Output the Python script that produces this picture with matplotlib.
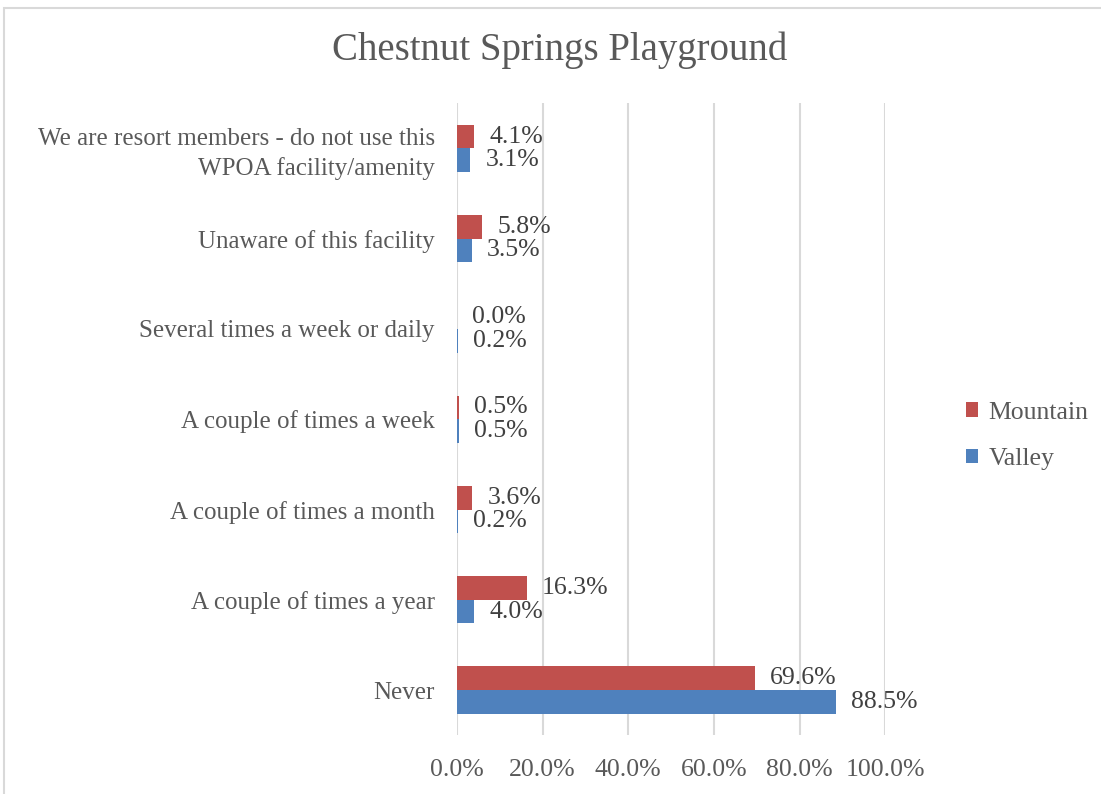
import matplotlib.pyplot as plt
import numpy as np
from matplotlib.patches import Rectangle

categories = ['We are resort members - do not use this\nWPOA facility/amenity',
              'Unaware of this facility',
              'Several times a week or daily',
              'A couple of times a week',
              'A couple of times a month',
              'A couple of times a year',
              'Never']
mountain = [4.1, 5.8, 0.0, 0.5, 3.6, 16.3, 69.6]
valley = [3.1, 3.5, 0.2, 0.5, 0.2, 4.0, 88.5]

plt.rcParams['font.family'] = ['Liberation Serif', 'DejaVu Serif']
grey = '#595959'
red = '#C0504D'
blue = '#4F81BD'

fig = plt.figure(figsize=(11.01, 7.94), dpi=100)
ax = fig.add_axes([0.415, 0.074, 0.389, 0.796])

y = np.arange(len(categories))[::-1]
h = 0.262
bm = ax.barh(y + h/2, mountain, height=h, color=red, label='Mountain')
bv = ax.barh(y - h/2, valley, height=h, color=blue, label='Valley')

for bars, vals in [(bm, mountain), (bv, valley)]:
    for b, v in zip(bars, vals):
        ax.annotate('%.1f%%' % v, (b.get_width(), b.get_y() + b.get_height()/2),
                    xytext=(11, 0), textcoords='offset points',
                    va='center', ha='left', fontsize=18.5, color='#404040')

ax.set_xlim(0, 100)
ax.set_ylim(-0.5, len(categories) - 0.5)
ax.set_xticks(np.arange(0, 101, 20))
ax.set_xticklabels(['%.1f%%' % t for t in np.arange(0, 101, 20)])
ax.set_yticks(y)
ax.set_yticklabels(categories, linespacing=1.35)
ax.tick_params(axis='x', length=0, labelsize=18.5, labelcolor=grey, pad=17)
ax.tick_params(axis='y', length=0, labelsize=18, labelcolor=grey, pad=16)
for lbl in ax.get_yticklabels():
    lbl.set_horizontalalignment('right')
ax.xaxis.grid(True, color='#D9D9D9', linewidth=1.5)
ax.set_axisbelow(True)
for s in ax.spines.values():
    s.set_visible(False)

fig.text(0.508, 0.937, 'Chestnut Springs Playground', ha='center', va='center',
         fontsize=28, color=grey)

handles = [bm, bv]
fig.legend(handles, ['Mountain', 'Valley'], loc='center left',
           bbox_to_anchor=(0.856, 0.451), frameon=False, fontsize=18.5,
           labelcolor=grey, handlelength=0.5, handleheight=0.5,
           handletextpad=0.4, labelspacing=0.95)

fig.patches.append(Rectangle((0.004, -0.01), 1.2, 1.0, transform=fig.transFigure,
                             fill=False, edgecolor='#D9D9D9', linewidth=1.5))

fig.savefig('out.png', dpi=100)
